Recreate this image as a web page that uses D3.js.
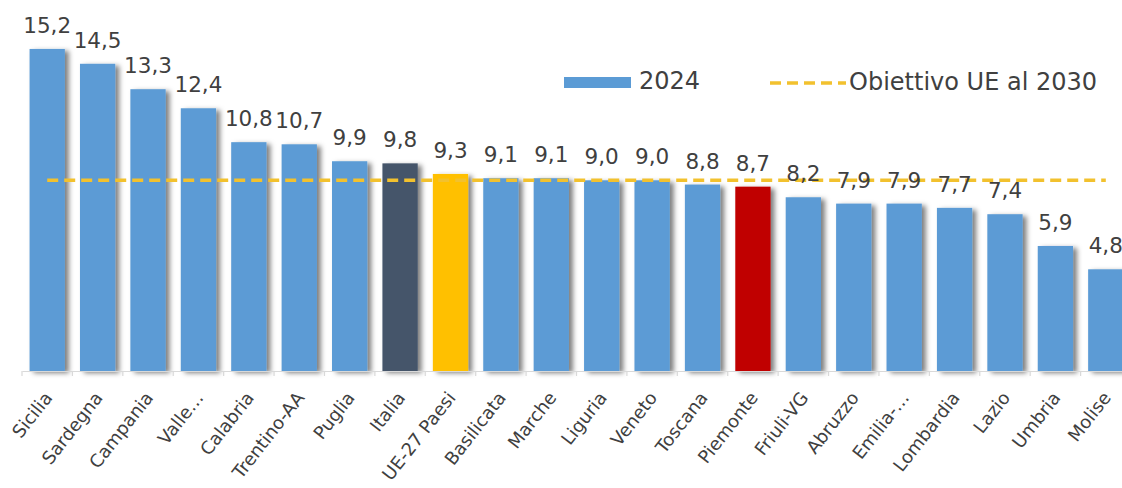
<!DOCTYPE html>
<html><head><meta charset="utf-8">
<script src="https://cdn.jsdelivr.net/npm/d3@7"></script>
<style>body{margin:0;background:#fff}svg{display:block}</style>
</head><body>
<svg id="c" width="1122" height="488"></svg>
<script>
const categories = ["Sicilia","Sardegna","Campania","Valle…","Calabria","Trentino-AA","Puglia","Italia","UE-27 Paesi","Basilicata","Marche","Liguria","Veneto","Toscana","Piemonte","Friuli-VG","Abruzzo","Emilia-…","Lombardia","Lazio","Umbria","Molise"];
const values2024 = [15.2,14.5,13.3,12.4,10.8,10.7,9.9,9.8,9.3,9.1,9.1,9.0,9.0,8.8,8.7,8.2,7.9,7.9,7.7,7.4,5.9,4.8];
const target2030 = 9.0;
const seriesNames = ["2024","Obiettivo UE al 2030"];

const colors = {bar:"#5B9BD5", Italia:"#44546A", "UE-27 Paesi":"#FFC000", Piemonte:"#C00000", target:"#F2C12E", text:"#404040", axis:"#D9D9D9"};
const FONT = "'DejaVu Sans', sans-serif";

const svg = d3.select("#c");
const x = d3.scaleBand().domain(categories).range([22, 1131]).paddingInner(0.3).paddingOuter(0.15);
const y = d3.scaleLinear().domain([0,16]).range([371, 32]);

const defs = svg.append("defs");
const f = defs.append("filter").attr("id","sh").attr("x","-20%").attr("y","-10%").attr("width","160%").attr("height","120%");
f.append("feDropShadow").attr("dx",4).attr("dy",2).attr("stdDeviation",2.5).attr("flood-color","#000").attr("flood-opacity",0.5);

// bars
svg.append("g").selectAll("rect").data(categories).join("rect")
  .attr("x", d=>x(d)).attr("width", x.bandwidth())
  .attr("y", (d,i)=>y(values2024[i])).attr("height",(d,i)=>y(0)-y(values2024[i]))
  .attr("fill", d=>colors[d]||colors.bar).attr("filter","url(#sh)");

// axis
const ax = svg.append("g").attr("transform","translate(0,371)")
  .call(d3.axisBottom(x).tickSize(0).tickFormat(""));
ax.select(".domain").attr("stroke",colors.axis).attr("stroke-width",1.2);
const step = x.step();
const bounds = d3.range(categories.length+1).map(i=>x(categories[0]) - x.paddingInner()*step/2 + i*step);
svg.append("g").selectAll("line").data(bounds).join("line")
  .attr("x1",d=>d).attr("x2",d=>d).attr("y1",371).attr("y2",376)
  .attr("stroke",colors.axis).attr("stroke-width",1.2);

// x labels
svg.append("g").selectAll("text").data(categories).join("text")
  .attr("transform", d=>`translate(${x(d)+x.bandwidth()/2+6},398) rotate(-52)`)
  .attr("text-anchor","end").attr("font-family",FONT).attr("font-size",18).attr("fill",colors.text)
  .text(d=>d);

// target line
const tl = d3.line().x(d=>x(d)+x.bandwidth()/2).y(()=>y(target2030));
svg.append("path").attr("d", tl(categories)).attr("fill","none")
  .attr("stroke",colors.target).attr("stroke-width",3.5).attr("stroke-dasharray","11,6");

// value labels
const fmt = v => d3.format(".1f")(v).replace(".",",");
svg.append("g").selectAll("text").data(categories).join("text")
  .attr("x", d=>x(d)+x.bandwidth()/2).attr("y",(d,i)=>y(values2024[i])-16)
  .attr("text-anchor","middle").attr("font-family",FONT).attr("font-size",21.5).attr("fill",colors.text)
  .text((d,i)=>fmt(values2024[i]));

// legend
const lg = svg.append("g");
lg.append("rect").attr("x",564).attr("y",77).attr("width",67).attr("height",11).attr("fill",colors.bar);
lg.append("text").attr("x",639).attr("y",89).attr("font-family",FONT).attr("font-size",24).attr("fill",colors.text).text(seriesNames[0]);
lg.append("line").attr("x1",770).attr("x2",846).attr("y1",83).attr("y2",83)
  .attr("stroke",colors.target).attr("stroke-width",3.5).attr("stroke-dasharray","11,6");
lg.append("text").attr("x",849).attr("y",90).attr("font-family",FONT).attr("font-size",24).attr("fill",colors.text).text(seriesNames[1]);
</script>
</body></html>
